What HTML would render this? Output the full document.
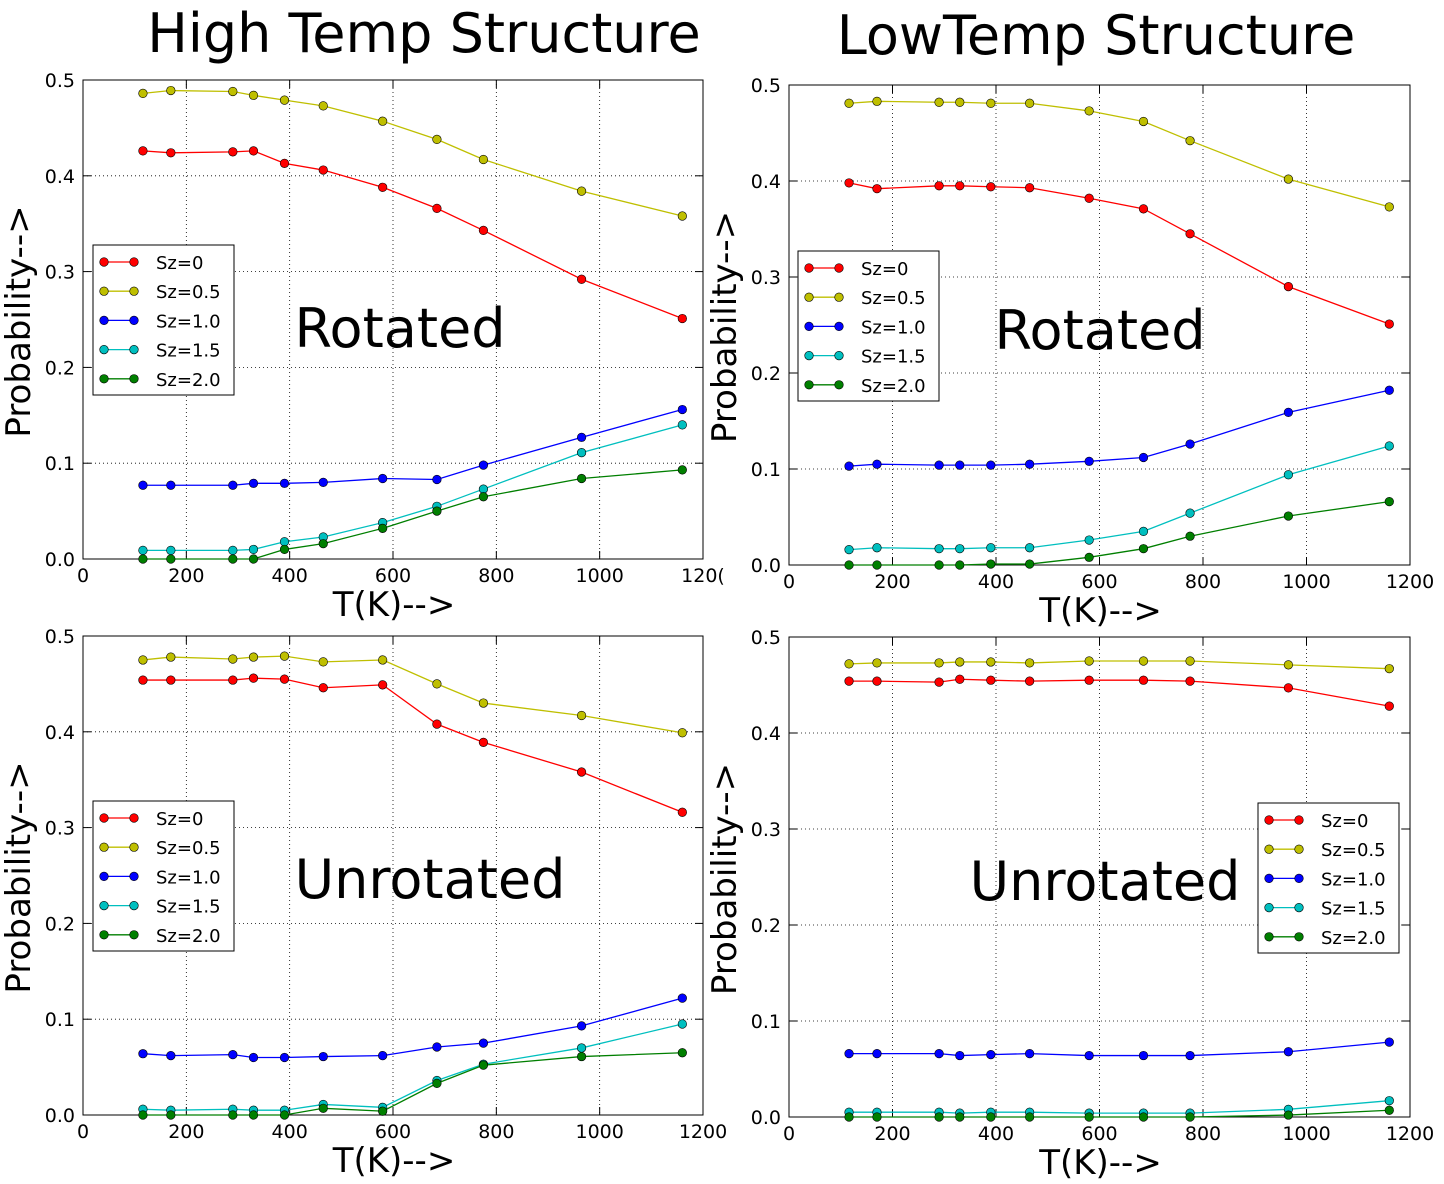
<!DOCTYPE html>
<html><head><meta charset="utf-8"><style>
body{margin:0;background:#fff}
svg{display:block;font-family:"DejaVu Sans","Liberation Sans",sans-serif}
</style></head><body>
<svg id="fig" width="1444" height="1184" viewBox="0 0 1444 1184" xmlns="http://www.w3.org/2000/svg">
<text x="424" y="52" font-size="54" text-anchor="middle">High Temp Structure</text>
<text x="1096" y="54" font-size="54" text-anchor="middle">LowTemp Structure</text>
</svg>
<script>
const temps=[116,170,290,330,390,465,580,685,775,965,1160];
const seriesNames=["Sz=0","Sz=0.5","Sz=1.0","Sz=1.5","Sz=2.0"];
const xTicks=[0,200,400,600,800,1000,1200];
const yTicks=[0,0.1,0.2,0.3,0.4,0.5];
const yTickLabels=["0.0","0.1","0.2","0.3","0.4","0.5"];
const p1Sz0=[0.426,0.424,0.425,0.426,0.413,0.406,0.388,0.366,0.343,0.292,0.251];
const p1Sz05=[0.486,0.489,0.488,0.484,0.479,0.473,0.457,0.438,0.417,0.384,0.358];
const p1Sz1=[0.077,0.077,0.077,0.079,0.079,0.080,0.084,0.083,0.098,0.127,0.156];
const p1Sz15=[0.009,0.009,0.009,0.010,0.018,0.023,0.038,0.055,0.073,0.111,0.140];
const p1Sz2=[0.000,0.000,0.000,0.000,0.010,0.016,0.032,0.050,0.065,0.084,0.093];
const p2Sz0=[0.398,0.392,0.395,0.395,0.394,0.393,0.382,0.371,0.345,0.290,0.251];
const p2Sz05=[0.481,0.483,0.482,0.482,0.481,0.481,0.473,0.462,0.442,0.402,0.373];
const p2Sz1=[0.103,0.105,0.104,0.104,0.104,0.105,0.108,0.112,0.126,0.159,0.182];
const p2Sz15=[0.016,0.018,0.017,0.017,0.018,0.018,0.026,0.035,0.054,0.094,0.124];
const p2Sz2=[0.000,0.000,0.000,0.000,0.001,0.001,0.008,0.017,0.030,0.051,0.066];
const p3Sz0=[0.454,0.454,0.454,0.456,0.455,0.446,0.449,0.408,0.389,0.358,0.316];
const p3Sz05=[0.475,0.478,0.476,0.478,0.479,0.473,0.475,0.450,0.430,0.417,0.399];
const p3Sz1=[0.064,0.062,0.063,0.060,0.060,0.061,0.062,0.071,0.075,0.093,0.122];
const p3Sz15=[0.006,0.005,0.006,0.005,0.005,0.011,0.008,0.036,0.053,0.070,0.095];
const p3Sz2=[0.000,0.000,0.000,0.000,0.000,0.007,0.004,0.033,0.052,0.061,0.065];
const p4Sz0=[0.454,0.454,0.453,0.456,0.455,0.454,0.455,0.455,0.454,0.447,0.428];
const p4Sz05=[0.472,0.473,0.473,0.474,0.474,0.473,0.475,0.475,0.475,0.471,0.467];
const p4Sz1=[0.066,0.066,0.066,0.064,0.065,0.066,0.064,0.064,0.064,0.068,0.078];
const p4Sz15=[0.005,0.005,0.005,0.004,0.005,0.005,0.004,0.004,0.004,0.008,0.017];
const p4Sz2=[0,0,0,0,0,0,0,0,0,0.002,0.007];

const colors=["#ff0000","#bfbf00","#0000ff","#00bfbf","#007f00"];
const NS="http://www.w3.org/2000/svg";
const fig=document.getElementById('fig');
function mk(tag,attrs,parent){const e=document.createElementNS(NS,tag);for(const k in attrs)e.setAttribute(k,attrs[k]);(parent||fig).appendChild(e);return e;}

const panels=[
 {id:"top-left",x0:83,x1:703,y0:559,y1:80,data:[p1Sz0,p1Sz05,p1Sz1,p1Sz15,p1Sz2],label:"Rotated",lx:400,ly:347,leg:[93,245],clipLast:true},
 {id:"top-right",x0:789,x1:1410,y0:565,y1:85,data:[p2Sz0,p2Sz05,p2Sz1,p2Sz15,p2Sz2],label:"Rotated",lx:1100,ly:349,leg:[798,251]},
 {id:"bottom-left",x0:83,x1:703,y0:1115,y1:636,data:[p3Sz0,p3Sz05,p3Sz1,p3Sz15,p3Sz2],label:"Unrotated",lx:430,ly:898,leg:[93,801]},
 {id:"bottom-right",x0:789,x1:1410,y0:1117,y1:637,data:[p4Sz0,p4Sz05,p4Sz1,p4Sz15,p4Sz2],label:"Unrotated",lx:1105,ly:900,leg:[1258,803]}
];

panels.forEach(p=>{
 const g=mk('g',{});
 
 
 const sx=v=>p.x0+(v-0)/1200*(p.x1-p.x0);
 const sy=v=>p.y0+(v-0)/0.5*(p.y1-p.y0);
 xTicks.forEach(t=>{
  const x=sx(t);
  if(t>0&&t<1200){const l=mk('line',{x1:x,x2:x,y1:p.y1,y2:p.y0,stroke:"#000","stroke-width":0.8,"stroke-dasharray":"1,3"},g);
   }
  mk('line',{x1:x,x2:x,y1:p.y0,y2:p.y0-8,stroke:"#000"},g);
  mk('line',{x1:x,x2:x,y1:p.y1,y2:p.y1+8,stroke:"#000"},g);
  const tx=mk('text',{x:x,y:p.y0+23,"font-size":19,"text-anchor":"middle"},g);
  tx.textContent=(p.clipLast&&t===1200)?"120(":t;
  
 });
 yTicks.forEach((t,i)=>{
  const y=sy(t);
  if(t>0&&t<0.5){const l=mk('line',{x1:p.x0,x2:p.x1,y1:y,y2:y,stroke:"#000","stroke-width":0.8,"stroke-dasharray":"1,3"},g);
   }
  mk('line',{x1:p.x0,x2:p.x0+8,y1:y,y2:y,stroke:"#000"},g);
  mk('line',{x1:p.x1,x2:p.x1-8,y1:y,y2:y,stroke:"#000"},g);
  const tx=mk('text',{x:p.x0-8,y:y+7,"font-size":19,"text-anchor":"end"},g);
  tx.textContent=yTickLabels[i];
  
 });
 const fr=mk('rect',{x:p.x0,y:p.y1,width:p.x1-p.x0,height:p.y0-p.y1,fill:"none",stroke:"#000","stroke-width":1},g);
 
 p.data.forEach((vals,si)=>{
  const pts=vals.map((v,i)=>sx(temps[i])+","+sy(v)).join(" ");
  const pl=mk('polyline',{points:pts,fill:"none",stroke:colors[si],"stroke-width":1.3},g);
  
  
  vals.forEach((v,i)=>{
   const c=mk('circle',{cx:sx(temps[i]),cy:sy(v),r:4.3,fill:colors[si],stroke:"#000","stroke-width":0.6},g);
   
   
  });
 });
 const xl=mk('text',{x:(p.x0+p.x1)/2+1,y:p.y0+57,"font-size":34,"text-anchor":"middle"},g);
 xl.textContent="T(K)-->";
 
 const ymid=(p.y0+p.y1)/2+2, yx=p.x0-53;
 const yl=mk('text',{x:yx,y:ymid,"font-size":34,"text-anchor":"middle",transform:`rotate(-90 ${yx} ${ymid})`},g);
 yl.textContent="Probability-->";
 
 const an=mk('text',{x:p.lx,y:p.ly,"font-size":54,"text-anchor":"middle"},g);
 an.textContent=p.label;
 
 const lg=mk('g',{},g);
 
 const [lx,ly]=p.leg;
 mk('rect',{x:lx,y:ly,width:141,height:150,fill:"#fff",stroke:"#000","stroke-width":1},lg);
 seriesNames.forEach((n,si)=>{
  const y=ly+17+si*29.2;
  const e=mk('g',{},lg);
  
  mk('line',{x1:lx+11,x2:lx+41,y1:y,y2:y,stroke:colors[si],"stroke-width":1.3},e);
  mk('circle',{cx:lx+11,cy:y,r:4.3,fill:colors[si],stroke:"#000","stroke-width":0.6},e);
  mk('circle',{cx:lx+41,cy:y,r:4.3,fill:colors[si],stroke:"#000","stroke-width":0.6},e);
  const t=mk('text',{x:lx+63,y:y+7,"font-size":18},e);
  t.textContent=n;
 });
});
</script>
</body></html>
